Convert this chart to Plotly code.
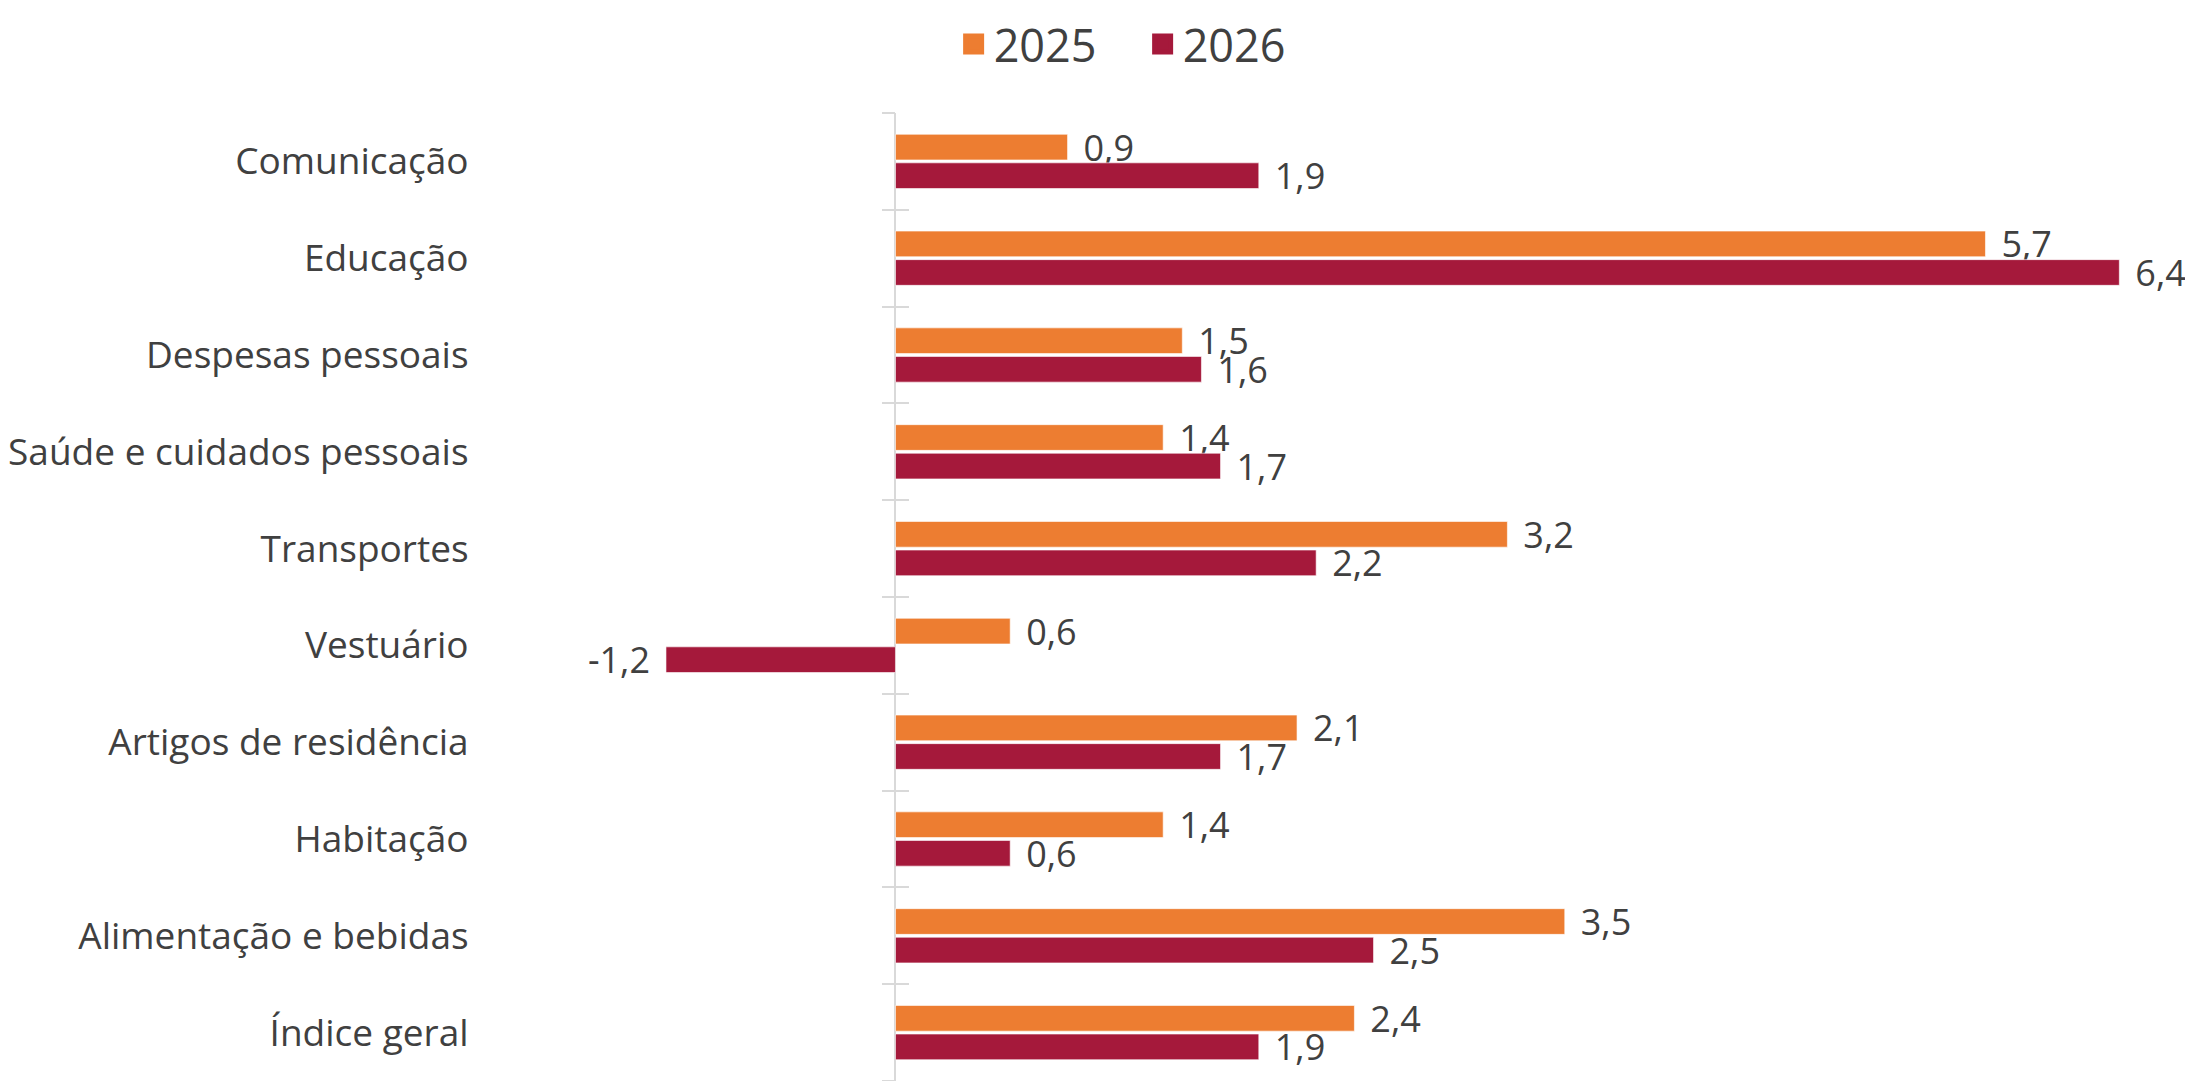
import plotly.graph_objects as go

categories = ["Comunicação", "Educação", "Despesas pessoais", "Saúde e cuidados pessoais",
              "Transportes", "Vestuário", "Artigos de residência", "Habitação",
              "Alimentação e bebidas", "Índice geral"]
series_names = ["2025", "2026"]
values_2025 = [0.9, 5.7, 1.5, 1.4, 3.2, 0.6, 2.1, 1.4, 3.5, 2.4]
values_2026 = [1.9, 6.4, 1.6, 1.7, 2.2, -1.2, 1.7, 0.6, 2.5, 1.9]
colors = ["#ED7D31", "#A5193B"]

FONT = "Open Sans"
TXT = "#404040"
AXC = "#D9D9D9"

x_range = [-2.0, 6.78]
n = len(categories)
zero_pos = (0 - x_range[0]) / (x_range[1] - x_range[0])

PAD = "\u00a0\u200a"


def label(v):
    s = f"{v:.1f}".replace(".", ",")
    return PAD + s if v >= 0 else s + PAD


fig = go.Figure()
for name, vals, col in zip(series_names, [values_2025, values_2026], colors):
    fig.add_trace(go.Bar(
        y=categories, x=vals, orientation="h", name=name,
        marker=dict(color=col, line=dict(color="rgba(255,255,255,0.6)", width=1)),
        text=[label(v) for v in vals], textposition="outside", constraintext="none",
        textfont=dict(family=FONT, size=36, color=TXT),
        cliponaxis=False, showlegend=False,
    ))
# legend entries with larger square symbols
for name, col in zip(series_names, colors):
    fig.add_trace(go.Scatter(
        x=[None], y=[None], mode="markers", name=name,
        marker=dict(symbol="square", size=16, color=col, line=dict(color=col, width=5)),
    ))
# helper traces so the cross-tick axes at x = 0 are drawn
for ax in ["y2", "y3"]:
    fig.add_trace(go.Scatter(x=[None], y=[None], yaxis=ax, mode="markers",
                             showlegend=False, hoverinfo="skip"))

tick_bounds = [i - 0.5 for i in range(n + 1)]

# the page body has an 8px margin, so the figure is sized/offset to compensate
fig.update_layout(
    width=2185, height=1073,
    margin=dict(l=503, r=1, t=95, b=0),
    paper_bgcolor="white", plot_bgcolor="white",
    barmode="group", bargap=0.41, bargroupgap=0.1,
    separators=",.",
    font=dict(family=FONT, color=TXT),
    legend=dict(orientation="h", x=0.375, xanchor="center", y=1.071, yanchor="middle",
                font=dict(family=FONT, size=45, color=TXT), itemclick=False,
                entrywidth=144, entrywidthmode="pixels"),
    xaxis=dict(range=x_range, showgrid=False, showticklabels=False, ticks="",
               zeroline=True, zerolinecolor=AXC, zerolinewidth=2, fixedrange=True),
    yaxis=dict(autorange="reversed", showgrid=False, showline=False, ticks="outside",
               ticklen=36, tickcolor="rgba(0,0,0,0)", tickfont=dict(family=FONT, size=37, color=TXT),
               fixedrange=True),
    yaxis2=dict(overlaying="y", anchor="free", position=zero_pos, range=[n - 0.5, -0.5],
                tickmode="array", tickvals=tick_bounds,
                showticklabels=False, ticks="outside", ticklen=13, tickwidth=2, tickcolor=AXC,
                showgrid=False, zeroline=False, showline=False, fixedrange=True),
    yaxis3=dict(overlaying="y", anchor="free", position=zero_pos, range=[n - 0.5, -0.5],
                tickmode="array", tickvals=tick_bounds,
                showticklabels=False, ticks="inside", ticklen=13, tickwidth=2, tickcolor=AXC,
                showgrid=False, zeroline=False, showline=False, fixedrange=True),
)

fig.write_html("out.html")
